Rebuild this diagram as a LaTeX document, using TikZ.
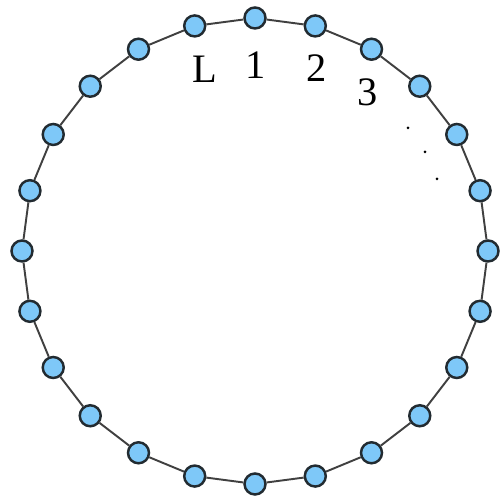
\documentclass[tikz,border=0pt]{standalone}
\usepackage{fontspec}
\setmainfont{Liberation Serif}
\usetikzlibrary{calc}
\definecolor{ringblue}{HTML}{7EC8F8}
\definecolor{ringedge}{HTML}{222B31}
\definecolor{ringline}{HTML}{404040}

\begin{document}
\begin{tikzpicture}[
  site/.style={circle, fill=ringblue, draw=ringedge, line width=1.4pt,
    minimum size=0.42cm, inner sep=0pt},
  bond/.style={ringline, line width=1.1pt},
  lbl/.style={font=\fontsize{23}{23}\selectfont, inner sep=0pt},
]

% frame of the picture
\useasboundingbox (-5.1,-4.92) rectangle (4.92,5.02);

% ring radius
\pgfmathsetmacro{\R}{4.66}

% sites around the ring
\foreach \i in {0,...,23}{
  \node[site] (p\i) at ({90-15*\i}:\R) {};
}

% bonds between neighbouring sites
\foreach \i in {0,...,23}{
  \pgfmathtruncatemacro{\j}{mod(\i+1,24)}
  \draw[bond] (p\i) -- (p\j);
}

% site labels
\node[lbl] (lL) at ($(p23)+(0.21,-0.86)$) {L};
\node[lbl] (l1) at ($(p0)+(0.02,-0.94)$) {1};
\node[lbl] (l2) at ($(p1)+(0.02,-0.84)$) {2};
\node[lbl] (l3) at ($(p2)+(-0.07,-0.86)$) {3};

% dots continuing the numbering
\foreach \px/\py in {3.06/2.46, 3.40/1.98, 3.64/1.44}{
  \fill[black] (\px,\py) circle (0.03);
}

\end{tikzpicture}
\end{document}
